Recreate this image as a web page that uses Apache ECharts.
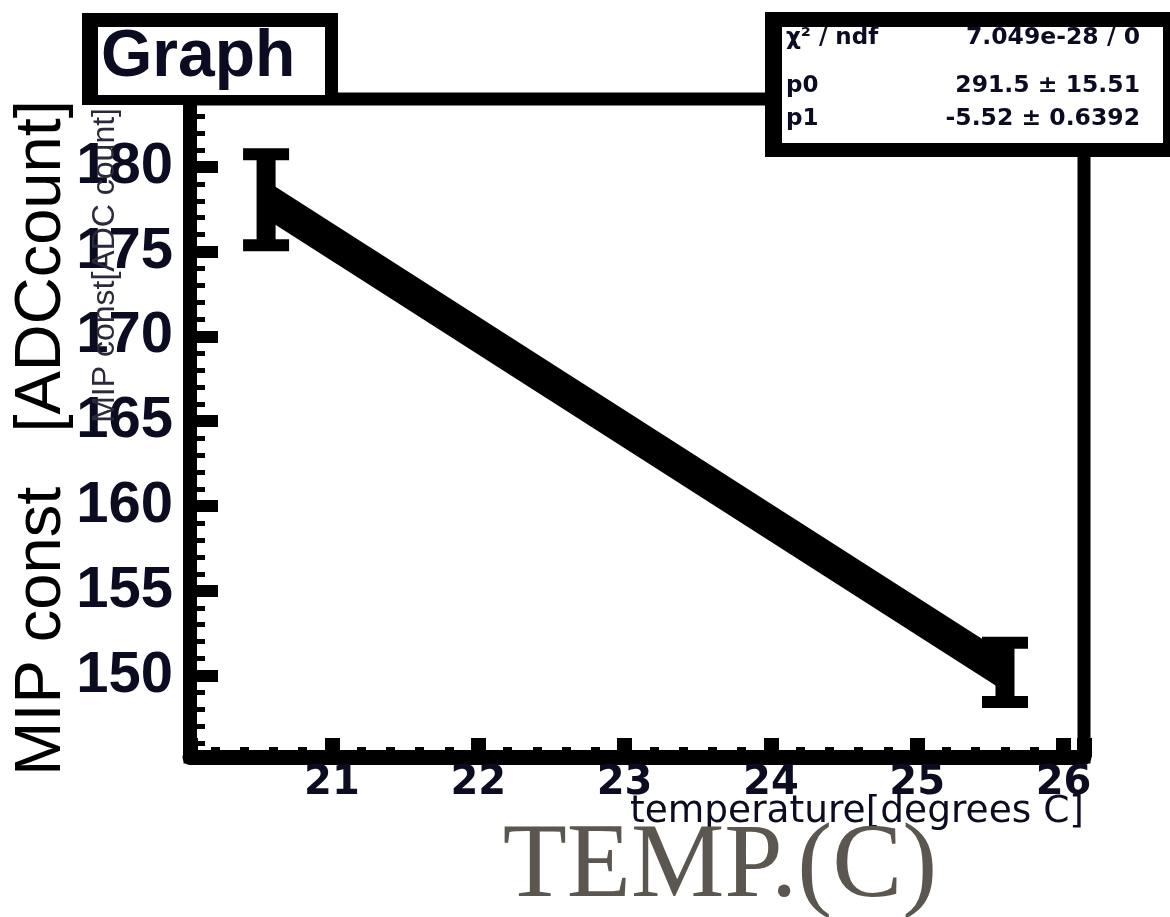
<!DOCTYPE html>
<html>
<head>
<meta charset="utf-8">
<title>MIP const vs temperature</title>
<script src="https://cdn.jsdelivr.net/npm/echarts@6/dist/echarts.min.js"></script>
<style>
  html, body { margin: 0; padding: 0; background: #ffffff; }
  #chart { width: 1170px; height: 917px; }
</style>
</head>
<body>
<div id="chart"></div>
<script>
// Measured points: temperature [deg C], MIP constant [ADC count], error
const temperatures = [20.55, 25.60];
const mipConst = [178.06, 150.19];
const mipErrors = [2.68, 1.74];

// Linear fit parameters (pol1: p0 + p1 * T)
const fitP0 = 291.5;
const fitP1 = -5.52;

// Stats box rows
const statLabels = ['\u03C7\u00B2 / ndf', 'p0', 'p1'];
const statValues = ['7.049e-28 / 0', '291.5 \u00B1 15.51', '-5.52 \u00B1 0.6392'];

// Axis ranges
const xRange = [20.03, 26.14];
const yRange = [145.2, 184.0];

const textDark = '#0b0b22';

const errorData = temperatures.map((t, i) => [t, mipConst[i], mipErrors[i]]);
const tMin = Math.min(...temperatures);
const tMax = Math.max(...temperatures);
const fitLine = [[tMin, fitP0 + fitP1 * tMin], [tMax, fitP0 + fitP1 * tMax]];

const chart = echarts.init(document.getElementById('chart'), null, { renderer: 'canvas' });

const statRowsY = [38, 86, 119];
const statGraphics = [];
statLabels.forEach((lab, i) => {
  statGraphics.push({
    type: 'text', x: 786, y: statRowsY[i], z: 102,
    style: { text: lab, fill: textDark, font: 'bold 23px "DejaVu Sans"', align: 'left', verticalAlign: 'middle' }
  });
  statGraphics.push({
    type: 'text', x: 1140, y: statRowsY[i], z: 102,
    style: { text: statValues[i], fill: textDark, font: 'bold 23.5px "DejaVu Sans"', align: 'right', verticalAlign: 'middle' }
  });
});

const option = {
  backgroundColor: '#ffffff',
  animation: false,
  grid: {
    left: 190, right: 86, top: 99, bottom: 160,
    show: true, borderColor: '#000', borderWidth: 13, backgroundColor: 'transparent'
  },
  xAxis: {
    type: 'value',
    min: xRange[0], max: xRange[1],
    splitNumber: 6,
    axisLine: { show: true, onZero: false, lineStyle: { color: '#000', width: 15 } },
    axisTick: { show: true, inside: true, length: 19, lineStyle: { color: '#000', width: 15 } },
    minorTick: { show: true, splitNumber: 5, length: 10, lineStyle: { color: '#000', width: 9 } },
    splitLine: { show: false },
    axisLabel: {
      show: true, margin: 7, showMinLabel: false, showMaxLabel: false,
      color: textDark, fontFamily: 'DejaVu Sans', fontWeight: 'bold', fontSize: 40
    }
  },
  yAxis: {
    type: 'value',
    min: yRange[0], max: yRange[1],
    splitNumber: 8,
    axisLine: { show: true, onZero: false, lineStyle: { color: '#000', width: 14 } },
    axisTick: { show: true, inside: true, length: 28, lineStyle: { color: '#000', width: 12 } },
    minorTick: { show: true, splitNumber: 5, length: 15, lineStyle: { color: '#000', width: 5 } },
    splitLine: { show: false },
    axisLabel: {
      show: true, margin: 17, showMinLabel: false, showMaxLabel: false,
      color: textDark, fontFamily: 'Liberation Sans', fontWeight: 'bold', fontSize: 58
    }
  },
  series: [
    {
      name: 'fit',
      type: 'line',
      data: fitLine,
      symbol: 'none',
      lineStyle: { color: '#000', width: 32, cap: 'butt' },
      z: 3
    },
    {
      name: 'Graph',
      type: 'custom',
      data: errorData,
      z: 4,
      renderItem: function (params, api) {
        const x = api.value(0), y = api.value(1), e = api.value(2);
        const c = api.coord([x, y]);
        const top = api.coord([x, y + e]);
        const bot = api.coord([x, y - e]);
        const barW = 19, capW = 46, capH = 12;
        return {
          type: 'group',
          children: [
            { type: 'rect', shape: { x: c[0] - barW / 2, y: top[1], width: barW, height: bot[1] - top[1] }, style: { fill: '#000' } },
            { type: 'rect', shape: { x: c[0] - capW / 2, y: top[1] - capH / 2, width: capW, height: capH }, style: { fill: '#000' } },
            { type: 'rect', shape: { x: c[0] - capW / 2, y: bot[1] - capH / 2, width: capW, height: capH }, style: { fill: '#000' } }
          ]
        };
      }
    }
  ],
  graphic: [
    // title pad
    { type: 'rect', z: 100, shape: { x: 82, y: 13, width: 256, height: 92 }, style: { fill: '#000' } },
    { type: 'rect', z: 101, shape: { x: 98, y: 27, width: 227, height: 68 }, style: { fill: '#fff' } },
    {
      type: 'text', x: 101, y: 58, z: 102,
      style: { text: 'Graph', fill: textDark, font: 'bold 66px "Liberation Sans"', align: 'left', verticalAlign: 'middle' }
    },
    // stats pad
    { type: 'rect', z: 100, shape: { x: 765, y: 12, width: 410, height: 145 }, style: { fill: '#000' } },
    { type: 'rect', z: 101, shape: { x: 782, y: 27, width: 381, height: 116 }, style: { fill: '#fff' } },
    ...statGraphics,
    // axis titles
    {
      type: 'text', x: 1084, y: 812, z: 50,
      style: { text: 'temperature[degrees C]', fill: textDark, font: '37.5px "DejaVu Sans"', align: 'right', verticalAlign: 'middle' }
    },
    {
      type: 'text', x: 105, y: 108, z: 50, rotation: Math.PI / 2,
      style: { text: 'MIP const[ADC count]', fill: '#2a2a3a', font: '32px "Liberation Sans"', align: 'right', verticalAlign: 'middle' }
    },
    {
      type: 'text', x: 720, y: 868, z: 50,
      style: { text: 'TEMP.(C)', fill: '#5b5750', font: '105px "Liberation Serif"', align: 'center', verticalAlign: 'middle' }
    },
    {
      type: 'text', x: 42, y: 438, z: 50, rotation: Math.PI / 2,
      style: { text: 'MIP const   [ADCcount]', fill: '#000', font: '65px "Liberation Sans"', align: 'center', verticalAlign: 'middle' }
    }
  ]
};

chart.setOption(option);
</script>
</body>
</html>
